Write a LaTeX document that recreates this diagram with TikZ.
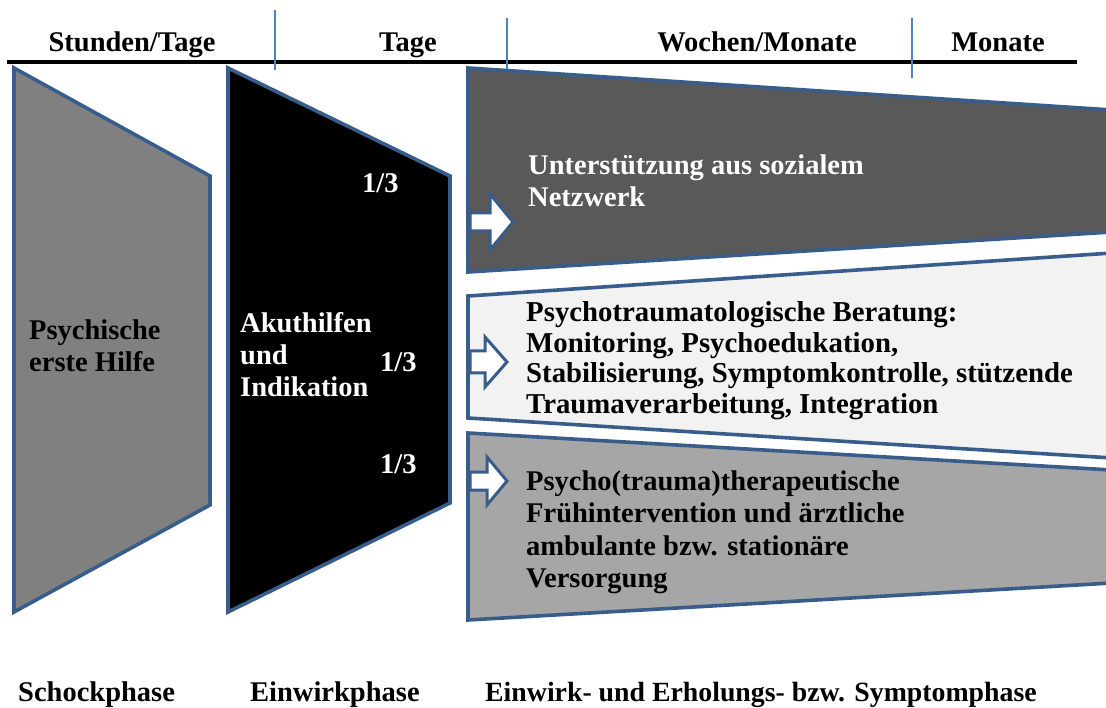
\documentclass[tikz,border=0pt]{standalone}
\usepackage{fontspec}
\setmainfont{Liberation Serif}
\definecolor{edge}{RGB}{56,93,138}
\definecolor{tick}{RGB}{79,129,189}
\definecolor{shockgray}{RGB}{128,128,128}
\definecolor{darkbox}{RGB}{89,89,89}
\definecolor{lightbox}{RGB}{242,242,242}
\definecolor{midgray}{RGB}{166,166,166}
\newcommand\mylines[1]{\begin{tabular}[t]{@{}l@{}}#1\end{tabular}}
\tikzset{
  phase/.style={draw=edge, line width=3.6pt, line join=miter},
  blockarrow/.style={draw=edge, line width=3pt, fill=white, line join=miter},
  lbl/.style={inner sep=0pt, font=\bfseries\fontsize{28.5}{32}\selectfont},
  tickline/.style={draw=tick, line width=1.4pt},
}
\begin{document}
\begin{tikzpicture}[x=1pt,y=-1pt]
\useasboundingbox (0,0) rectangle (1106,708);
\clip (0,0) rectangle (1106,708);

% time axis
\coordinate (axl) at (7,62);
\coordinate (axr) at (1077,62);
\draw[line width=3.8pt] (axl) -- (axr);
\coordinate (t1a) at (275,10); \coordinate (t1b) at (275,70);
\coordinate (t2a) at (507,18); \coordinate (t2b) at (507,72);
\coordinate (t3a) at (912,18); \coordinate (t3b) at (912,78);
\draw[tickline] (t1a) -- (t1b);
\draw[tickline] (t2a) -- (t2b);
\draw[tickline] (t3a) -- (t3b);
\node[lbl, anchor=base] (h1) at (132,52) {Stunden/Tage};
\node[lbl, anchor=base] (h2) at (408,52) {Tage};
\node[lbl, anchor=base] (h3) at (757,52) {Wochen/Monate};
\node[lbl, anchor=base] (h4) at (998,52) {Monate};

% phase shapes
\path[phase, fill=shockgray] (14,68) -- (210,176) -- (210,505) -- (14,612) -- cycle;
\path[phase, fill=black] (228,68) -- (450,176) -- (450,503) -- (228,612) -- cycle;
\path[phase, fill=darkbox] (468,68) -- (1112,110) -- (1112,232) -- (468,272) -- cycle;
\path[phase, fill=lightbox] (468,296) -- (1112,253) -- (1112,458) -- (468,418) -- cycle;
\path[phase, fill=midgray] (468,433) -- (1112,470) -- (1112,583) -- (468,620) -- cycle;

% block arrows
\path[blockarrow] (470,213) -- (490,213) -- (490,194) -- (513,222) -- (490,250) -- (490,231) -- (470,231) -- cycle;
\path[blockarrow] (470,351) -- (485,351) -- (485,337) -- (507,362) -- (485,387) -- (485,373) -- (470,373) -- cycle;
\path[blockarrow] (470,472) -- (487,472) -- (487,457) -- (507,481) -- (487,505) -- (487,490) -- (470,490) -- cycle;

% texts
\node[lbl, anchor=base west] (pe) at (29,340) {\mylines{Psychische\\erste Hilfe}};
\node[lbl, anchor=base west, text=white] (ak) at (240,333) {\mylines{Akuthilfen\\und\\Indikation}};
\node[lbl, anchor=base west, text=white] (f1) at (362,193) {1/3};
\node[lbl, anchor=base west, text=white] (f2) at (380,372) {1/3};
\node[lbl, anchor=base west, text=white] (f3) at (380,473) {1/3};
\node[lbl, anchor=base west, text=white] (sn) at (528,175) {\mylines{Unterstützung aus sozialem\\Netzwerk}};
\node[lbl, anchor=base west, font=\bfseries\fontsize{28.8}{30.5}\selectfont] (pb) at (526,322) {\mylines{Psychotraumatologische Beratung:\\Monitoring, Psychoedukation,\\Stabilisierung, Symptomkontrolle, stützende\\Traumaverarbeitung, Integration}};
\node[lbl, anchor=base west, font=\bfseries\fontsize{28.5}{32.5}\selectfont] (pt) at (526,490) {\mylines{Psycho(trauma)therapeutische\\Frühintervention und ärztliche\\ambulante bzw. stationäre\\Versorgung}};

\node[lbl, anchor=base west] (b1) at (18,701) {Schockphase};
\node[lbl, anchor=base west] (b2) at (250,701) {Einwirkphase};
\node[lbl, anchor=base west, font=\bfseries\fontsize{27.8}{32}\selectfont] (b3) at (485,701) {Einwirk- und Erholungs- bzw. Symptomphase};
\end{tikzpicture}
\end{document}
